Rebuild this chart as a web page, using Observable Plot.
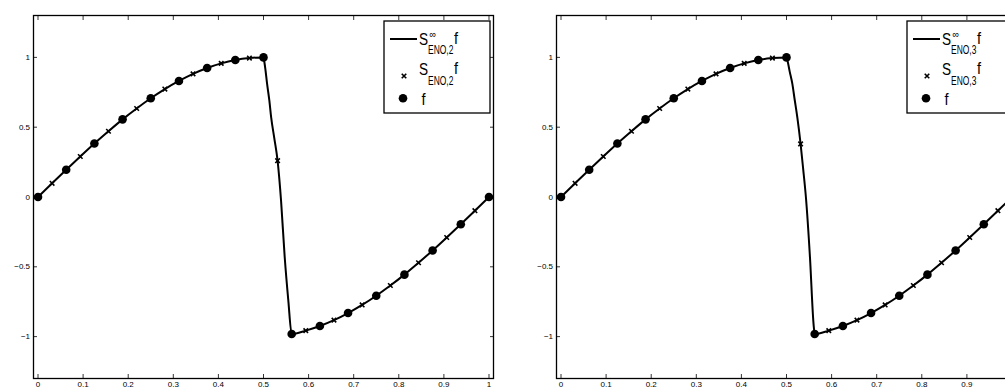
<!DOCTYPE html>
<html><head><meta charset="utf-8">
<script src="https://cdn.jsdelivr.net/npm/d3@7"></script>
<script src="https://cdn.jsdelivr.net/npm/@observablehq/plot@0.6"></script>
<style>
html,body{margin:0;padding:0;background:#fff;overflow:hidden;width:1005px;height:389px;}
#wrap{position:relative;width:1005px;height:389px;overflow:hidden;background:#fff;}
.panel{position:absolute;top:0;width:500px;height:389px;}
.panel svg.legend{position:absolute;left:0;top:0;overflow:visible;}
</style></head><body><div id="wrap"></div>
<script>
// grid points of f
const gridX = [0,0.0625,0.125,0.1875,0.25,0.3125,0.375,0.4375,0.5,0.5625,0.625,0.6875,0.75,0.8125,0.875,0.9375,1];
const fValues = [0,0.195,0.383,0.556,0.707,0.831,0.924,0.981,1,-0.981,-0.924,-0.831,-0.707,-0.556,-0.383,-0.195,0];
// one subdivision step (new midpoints)
const midX = [0.03125,0.09375,0.15625,0.21875,0.28125,0.34375,0.40625,0.46875,0.53125,0.59375,0.65625,0.71875,0.78125,0.84375,0.90625,0.96875];
const sEno2 = [0.098,0.290,0.471,0.634,0.773,0.882,0.957,0.995,0.26,-0.957,-0.882,-0.773,-0.634,-0.471,-0.290,-0.098];
const sEno3 = [0.098,0.290,0.471,0.634,0.773,0.882,0.957,0.995,0.38,-0.957,-0.882,-0.773,-0.634,-0.471,-0.290,-0.098];
// limit curve samples inside the jump cell
const jumpX2 = [0.502,0.504,0.508,0.513,0.517,0.524,0.539,0.547,0.555];
const jumpY2 = [0.965,0.92,0.81,0.69,0.57,0.42,-0.03,-0.43,-0.74];
const jumpX3 = [0.503,0.507,0.513,0.518,0.524,0.537,0.543,0.552,0.560];
const jumpY3 = [0.965,0.90,0.81,0.70,0.57,0.20,0.0,-0.43,-0.91];
const xTicks = [0,0.1,0.2,0.3,0.4,0.5,0.6,0.7,0.8,0.9,1];
const yTicks = [-1,-0.5,0,0.5,1];
const xTickLabels = ["0","0.1","0.2","0.3","0.4","0.5","0.6","0.7","0.8","0.9","1"];
const yTickLabels = ["\u22121","\u22120.5","0","0.5","1"];
const panelOrders = ["2","3"];

const panels = [
  {order: panelOrders[0], s: sEno2, jx: jumpX2, jy: jumpY2, left: 0},
  {order: panelOrders[1], s: sEno3, jx: jumpX3, jy: jumpY3, left: 523}
];

const wrap = document.getElementById("wrap");
const NS = "http://www.w3.org/2000/svg";
const FONT = "'Liberation Sans', Arial, Helvetica, sans-serif";

function txt(svg, str, x, y, size, sx) {
  const t = document.createElementNS(NS, "text");
  t.setAttribute("transform", `translate(${x},${y}) scale(${sx},1)`);
  t.setAttribute("font-family", FONT);
  t.setAttribute("font-size", size);
  t.setAttribute("fill", "black");
  t.textContent = str;
  svg.appendChild(t);
}

for (const p of panels) {
  const grid = gridX.map((x, i) => ({x, y: fValues[i]}));
  const sub = midX.map((x, i) => ({x, y: p.s[i]}));
  const jump = p.jx.map((x, i) => ({x, y: p.jy[i]}));
  const curve = [...grid, ...sub, ...jump].sort((a, b) => a.x - b.x);

  const chart = Plot.plot({
    width: 500, height: 389,
    marginLeft: 33, marginRight: 7, marginTop: 15, marginBottom: 11,
    x: {domain: [-0.01, 1.01]},
    y: {domain: [-1.3, 1.3]},
    style: {fontFamily: FONT, fontSize: "8px", color: "black", background: "white"},
    marks: [
      Plot.axisX(xTicks, {anchor: "bottom", tickSize: -4, fill: "none", label: null, strokeWidth: 0.8}),
      Plot.axisX(xTicks, {anchor: "top", tickSize: -4, fill: "none", label: null, strokeWidth: 0.8}),
      Plot.axisY(yTicks, {anchor: "left", tickSize: -4, fill: "none", label: null, strokeWidth: 0.8}),
      Plot.axisY(yTicks, {anchor: "right", tickSize: -4, fill: "none", label: null, strokeWidth: 0.8}),
      Plot.axisX(xTicks, {anchor: "bottom", tickSize: 0, tickPadding: 2.5, label: null,
        tickFormat: (d) => xTickLabels[xTicks.indexOf(d)]}),
      Plot.axisY(yTicks, {anchor: "left", tickSize: 0, tickPadding: 3.5, label: null,
        tickFormat: (d) => yTickLabels[yTicks.indexOf(d)]}),
      Plot.frame({stroke: "black", strokeWidth: 1.3}),
      Plot.line(curve, {x: "x", y: "y", curve: "monotone-x", stroke: "black", strokeWidth: 2}),
      Plot.dot(sub, {x: "x", y: "y", symbol: "times", r: 2.2, stroke: "black", strokeWidth: 1.6}),
      Plot.dot(grid, {x: "x", y: "y", r: 4.3, fill: "black", stroke: null})
    ]
  });

  const div = document.createElement("div");
  div.className = "panel";
  div.style.left = p.left + "px";
  div.appendChild(chart);

  // legend inside axes
  const lg = document.createElementNS(NS, "svg");
  lg.setAttribute("class", "legend");
  lg.setAttribute("width", 500);
  lg.setAttribute("height", 130);
  const rect = document.createElementNS(NS, "rect");
  rect.setAttribute("x", 384); rect.setAttribute("y", 21);
  rect.setAttribute("width", 106); rect.setAttribute("height", 92);
  rect.setAttribute("fill", "white"); rect.setAttribute("stroke", "black"); rect.setAttribute("stroke-width", 1.3);
  lg.appendChild(rect);
  const ln = document.createElementNS(NS, "line");
  ln.setAttribute("x1", 390); ln.setAttribute("x2", 417); ln.setAttribute("y1", 39); ln.setAttribute("y2", 39);
  ln.setAttribute("stroke", "black"); ln.setAttribute("stroke-width", 2);
  lg.appendChild(ln);
  const mk = document.createElementNS(NS, "path");
  mk.setAttribute("d", d3.symbol(d3.symbolTimes, Math.PI * 2.2 * 2.2)());
  mk.setAttribute("transform", "translate(404,76)");
  mk.setAttribute("fill", "none"); mk.setAttribute("stroke", "black"); mk.setAttribute("stroke-width", 1.6);
  lg.appendChild(mk);
  const c = document.createElementNS(NS, "circle");
  c.setAttribute("cx", 403); c.setAttribute("cy", 98.3); c.setAttribute("r", 4.3); c.setAttribute("fill", "black");
  lg.appendChild(c);
  // row 1
  txt(lg, "S", 419, 45, 17, 0.8);
  txt(lg, "\u221E", 429.5, 38, 11, 0.85);
  txt(lg, "ENO," + p.order, 428, 53.5, 13, 0.65);
  txt(lg, "f", 454, 44, 17, 0.85);
  // row 2
  txt(lg, "S", 419, 75, 17, 0.8);
  txt(lg, "ENO," + p.order, 428, 84.5, 13, 0.65);
  txt(lg, "f", 454, 73.5, 17, 0.85);
  // row 3
  txt(lg, "f", 421.5, 105, 17, 0.85);
  div.appendChild(lg);
  wrap.appendChild(div);
}
</script>
</body></html>
